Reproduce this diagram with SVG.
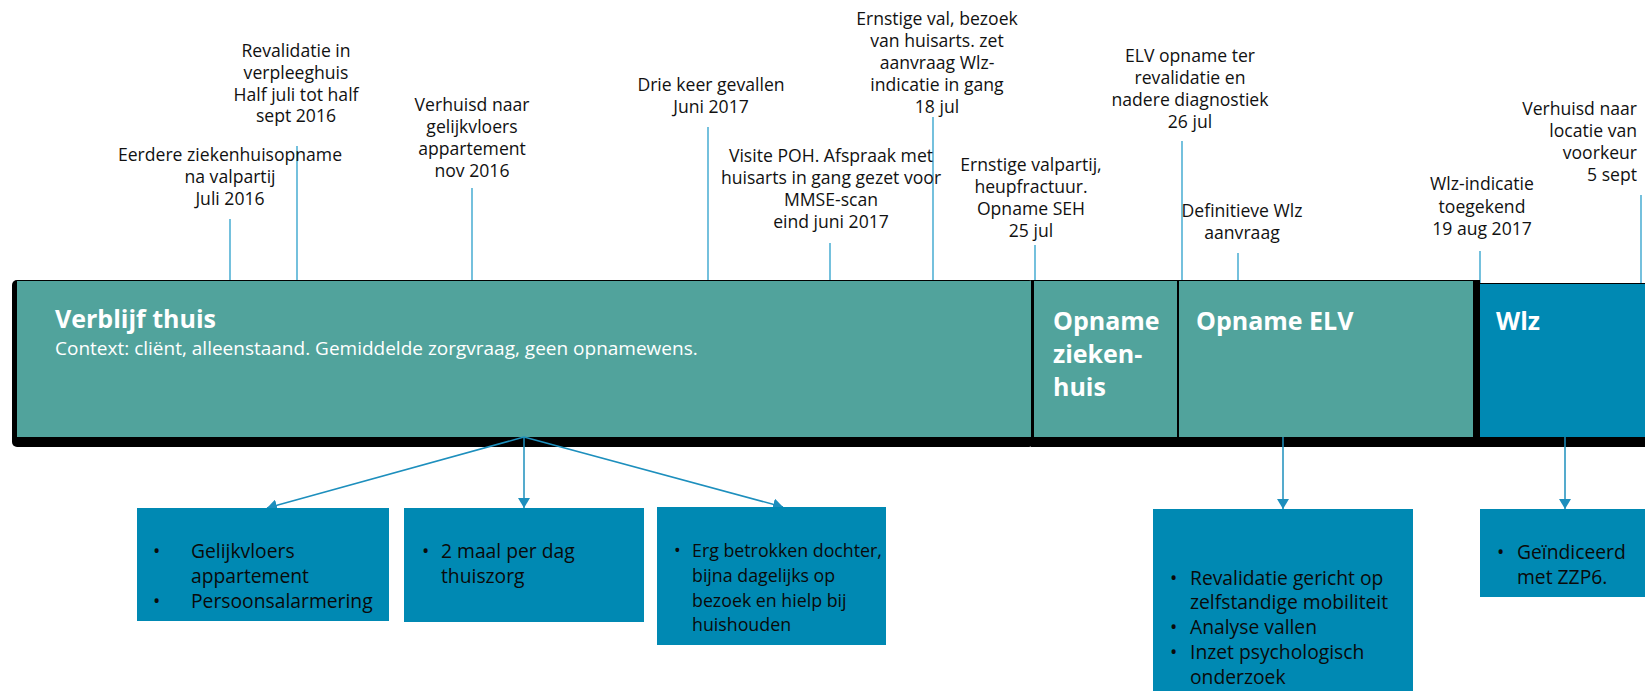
<svg xmlns="http://www.w3.org/2000/svg" width="1645" height="691" viewBox="0 0 1645 691">
<defs>
<style>
.lbl{font-family:"Open Sans","Noto Sans",sans-serif;font-size:17.6px;fill:#111;text-anchor:middle}
.lble{font-family:"Open Sans","Noto Sans",sans-serif;font-size:17.6px;fill:#111;text-anchor:end}
.ttl{font-family:"Open Sans","Noto Sans",sans-serif;font-weight:700;font-size:25px;fill:#fff}
.ctx{font-family:"Open Sans","Noto Sans",sans-serif;font-size:19px;fill:#fff}
.bx{fill:#0089b3}
.bt{font-family:"Open Sans","Noto Sans",sans-serif;font-size:19.3px;fill:#0a0a0a}
.bt3{font-size:17.8px}
.tick{stroke:#2a9fcb;stroke-width:1.3}
.arr{stroke:#1d8fbd;stroke-width:1.5;fill:none}
.sh{fill:#000}
.teal{fill:#51a39c}
.blue{fill:#0089b3}
</style>
<marker id="ah" markerUnits="userSpaceOnUse" markerWidth="12" markerHeight="12" refX="10" refY="6" orient="auto">
<path d="M0,0 L10,6 L0,12 z" fill="#1d8fbd"/>
</marker>
</defs>

<g id="ticks">
<line class="tick" x1="230" y1="219" x2="230" y2="287"/>
<line class="tick" x1="297" y1="146" x2="297" y2="282"/>
<line class="tick" x1="472" y1="188" x2="472" y2="283"/>
<line class="tick" x1="708" y1="127" x2="708" y2="281"/>
<line class="tick" x1="830" y1="243" x2="830" y2="281"/>
<line class="tick" x1="933" y1="117" x2="933" y2="282"/>
<line class="tick" x1="1035" y1="245" x2="1035" y2="283"/>
<line class="tick" x1="1182" y1="141" x2="1182" y2="281"/>
<line class="tick" x1="1238" y1="253" x2="1238" y2="285"/>
<line class="tick" x1="1480" y1="251" x2="1480" y2="284"/>
<line class="tick" x1="1641" y1="195" x2="1641" y2="284"/>
</g>

<g id="labels">
<text class="lbl"><tspan x="230" y="161">Eerdere ziekenhuisopname</tspan><tspan x="230" y="183">na valpartij</tspan><tspan x="230" y="205">Juli 2016</tspan></text>
<text class="lbl"><tspan x="296" y="57">Revalidatie in</tspan><tspan x="296" y="79">verpleeghuis</tspan><tspan x="296" y="101">Half juli tot half</tspan><tspan x="296" y="122">sept 2016</tspan></text>
<text class="lbl"><tspan x="472" y="111">Verhuisd naar</tspan><tspan x="472" y="133">gelijkvloers</tspan><tspan x="472" y="155">appartement</tspan><tspan x="472" y="177">nov 2016</tspan></text>
<text class="lbl"><tspan x="711" y="91">Drie keer gevallen</tspan><tspan x="711" y="113">Juni 2017</tspan></text>
<text class="lbl"><tspan x="937" y="25">Ernstige val, bezoek</tspan><tspan x="937" y="47">van huisarts. zet</tspan><tspan x="937" y="69">aanvraag Wlz-</tspan><tspan x="937" y="91">indicatie in gang</tspan><tspan x="937" y="113">18 jul</tspan></text>
<text class="lbl"><tspan x="831" y="162">Visite POH. Afspraak met</tspan><tspan x="831" y="184">huisarts in gang gezet voor</tspan><tspan x="831" y="206">MMSE-scan</tspan><tspan x="831" y="228">eind juni 2017</tspan></text>
<text class="lbl"><tspan x="1031" y="171">Ernstige valpartij,</tspan><tspan x="1031" y="193">heupfractuur.</tspan><tspan x="1031" y="215">Opname SEH</tspan><tspan x="1031" y="237">25 jul</tspan></text>
<text class="lbl"><tspan x="1190" y="62">ELV opname ter</tspan><tspan x="1190" y="84">revalidatie en</tspan><tspan x="1190" y="106">nadere diagnostiek</tspan><tspan x="1190" y="128">26 jul</tspan></text>
<text class="lbl"><tspan x="1242" y="217">Definitieve Wlz</tspan><tspan x="1242" y="239">aanvraag</tspan></text>
<text class="lbl"><tspan x="1482" y="190">Wlz-indicatie</tspan><tspan x="1482" y="213">toegekend</tspan><tspan x="1482" y="235">19 aug 2017</tspan></text>
<text class="lble"><tspan x="1637" y="115">Verhuisd naar</tspan><tspan x="1637" y="137">locatie van</tspan><tspan x="1637" y="159">voorkeur</tspan><tspan x="1637" y="181">5 sept</tspan></text>
</g>

<g id="phase-thuis">
<rect class="sh" x="12" y="280" width="1022" height="167" rx="5"/>
<rect class="teal" x="17" y="281" width="1014" height="156"/>
<text class="ttl" x="55" y="328">Verblijf thuis</text>
<text class="ctx" x="55" y="355">Context: cliënt, alleenstaand. Gemiddelde zorgvraag, geen opnamewens.</text>
</g>

<g id="phase-ziekenhuis">
<rect class="sh" x="1031" y="280" width="148" height="167"/>
<rect class="teal" x="1034" y="281" width="143" height="156"/>
<text class="ttl"><tspan x="1053" y="330">Opname</tspan><tspan x="1053" y="363">zieken-</tspan><tspan x="1053" y="396">huis</tspan></text>
</g>

<g id="phase-elv">
<rect class="sh" x="1177" y="280" width="303" height="167"/>
<rect class="teal" x="1179" y="281" width="294" height="156"/>
<text class="ttl" x="1196" y="330">Opname ELV</text>
</g>

<g id="phase-wlz">
<rect class="sh" x="1473" y="283" width="172" height="164"/>
<rect class="blue" x="1480" y="284" width="165" height="153"/>
<text class="ttl" x="1496" y="330">Wlz</text>
</g>

<g id="connectors">
<line class="arr" x1="524" y1="437" x2="267" y2="508" marker-end="url(#ah)"/>
<line class="arr" x1="524" y1="437" x2="524" y2="508" marker-end="url(#ah)"/>
<line class="arr" x1="524" y1="437" x2="783" y2="507" marker-end="url(#ah)"/>
<line class="arr" x1="1283" y1="437" x2="1283" y2="509" marker-end="url(#ah)"/>
<line class="arr" x1="1565" y1="437" x2="1565" y2="509" marker-end="url(#ah)"/>
</g>

<g id="box-woning">
<rect class="bx" x="137" y="508" width="252" height="113"/>
<text class="bt"><tspan x="153" y="558">•</tspan><tspan x="191" y="558">Gelijkvloers</tspan><tspan x="191" y="583">appartement</tspan><tspan x="153" y="608">•</tspan><tspan x="191" y="608">Persoonsalarmering</tspan></text>
</g>

<g id="box-thuiszorg">
<rect class="bx" x="404" y="508" width="240" height="114"/>
<text class="bt"><tspan x="422" y="558">•</tspan><tspan x="441" y="558">2 maal per dag</tspan><tspan x="441" y="583">thuiszorg</tspan></text>
</g>

<g id="box-mantelzorg">
<rect class="bx" x="657" y="507" width="229" height="138"/>
<text class="bt bt3"><tspan x="674" y="557">•</tspan><tspan x="692" y="557">Erg betrokken dochter,</tspan><tspan x="692" y="582">bijna dagelijks op</tspan><tspan x="692" y="607">bezoek en hielp bij</tspan><tspan x="692" y="631">huishouden</tspan></text>
</g>

<g id="box-elv">
<rect class="bx" x="1153" y="509" width="260" height="182"/>
<text class="bt"><tspan x="1170" y="585">•</tspan><tspan x="1190" y="585">Revalidatie gericht op</tspan><tspan x="1190" y="609">zelfstandige mobiliteit</tspan><tspan x="1170" y="634">•</tspan><tspan x="1190" y="634">Analyse vallen</tspan><tspan x="1170" y="659">•</tspan><tspan x="1190" y="659">Inzet psychologisch</tspan><tspan x="1190" y="684">onderzoek</tspan></text>
</g>

<g id="box-wlz">
<rect class="bx" x="1480" y="509" width="165" height="88"/>
<text class="bt"><tspan x="1497" y="559">•</tspan><tspan x="1517" y="559">Geïndiceerd</tspan><tspan x="1517" y="584">met ZZP6.</tspan></text>
</g>
</svg>
